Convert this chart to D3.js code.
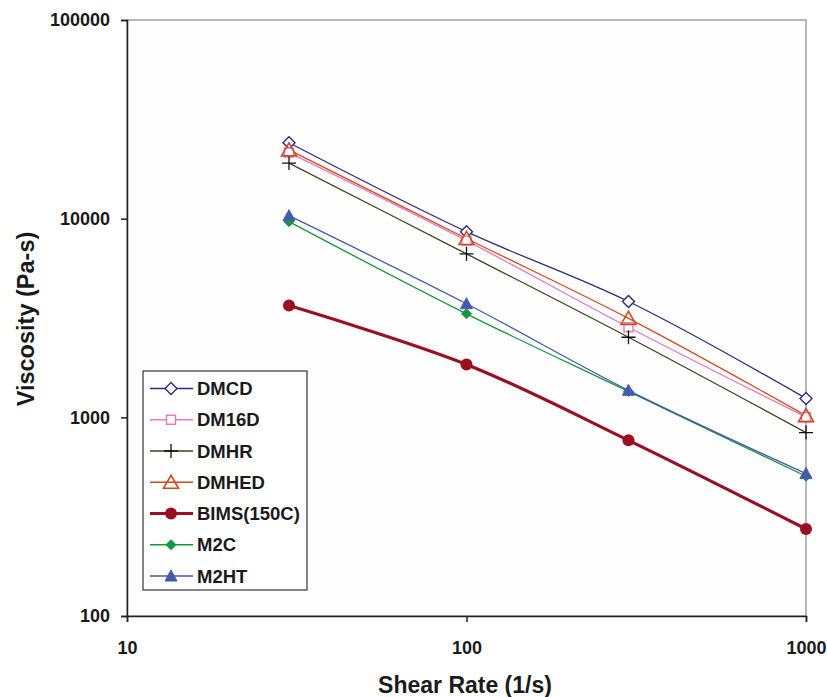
<!DOCTYPE html>
<html><head><meta charset="utf-8">
<script src="https://cdn.jsdelivr.net/npm/d3@7"></script>
<style>body{margin:0;background:#fff}svg{display:block;font-family:"Liberation Sans",Arial,sans-serif}</style>
</head><body><svg id="c" width="827" height="697"></svg>
<script>
const shearRates = [30, 100, 300, 1000];
const seriesNames = ["DMCD","DM16D","DMHR","DMHED","BIMS(150C)","M2C","M2HT"];
const DMCD = [24100, 8600, 3830, 1245];
const DM16D = [21500, 7750, 2840, 1003];
const DMHR = [19050, 6650, 2530, 838];
const DMHED = [22200, 7950, 3150, 1020];
const BIMS = [3655, 1847, 766, 274];
const M2C = [9660, 3320, 1350, 505];
const M2HT = [10350, 3730, 1368, 521];
const xTicks = [10, 100, 1000];
const yTicks = [100, 1000, 10000, 100000];

const styles = {
  "DMCD": {color:"#2f2a80", marker:"diamond", w:1.3},
  "DM16D": {color:"#e57ab8", marker:"square", w:1.3},
  "DMHR": {color:"#3b4621", marker:"plus", w:1.3},
  "DMHED": {color:"#cf4a1c", marker:"triangleOpen", w:1.3},
  "BIMS(150C)": {color:"#9a1022", marker:"circle", w:3.2},
  "M2C": {color:"#17963e", marker:"diamondFill", w:1.3},
  "M2HT": {color:"#4659ad", marker:"triangle", w:1.3}
};
const values = [DMCD, DM16D, DMHR, DMHED, BIMS, M2C, M2HT];

const svg = d3.select("#c");
const L = 127, R = 806, T = 20, B = 616;
const x = d3.scaleLog().domain([10, 1000]).range([L, R]);
const y = d3.scaleLog().domain([100, 100000]).range([B, T]);

// plot frame (gray)
svg.append("rect").attr("x", L).attr("y", T).attr("width", R-L).attr("height", B-T)
  .attr("fill", "#fefefe").attr("stroke", "#a0a0a0").attr("stroke-width", 1.5);

// axes
const xAxis = d3.axisBottom(x).tickValues(xTicks).tickFormat(d3.format("d")).tickSize(6).tickPadding(19);
const yAxis = d3.axisLeft(y).tickValues(yTicks).tickFormat(d3.format("d")).tickSize(6).tickPadding(11);
const gx = svg.append("g").attr("transform", `translate(0,${B})`).call(xAxis);
const gy = svg.append("g").attr("transform", `translate(${L},0)`).call(yAxis);
[gx, gy].forEach(g => {
  g.select(".domain").attr("stroke", "#222").attr("stroke-width", 1.5);
  g.selectAll(".tick line").attr("stroke", "#222").attr("stroke-width", 1.5);
  g.selectAll("text").attr("font-size", 18).attr("font-weight", "bold").attr("fill", "#1a1a1a")
    .attr("font-family", "'Liberation Sans',Arial,sans-serif");
});

// titles
svg.append("text").attr("x", 465).attr("y", 693).attr("text-anchor", "middle")
  .attr("font-size", 23).attr("font-weight", "bold").attr("fill", "#1a1a1a").text("Shear Rate (1/s)");
svg.append("text").attr("transform", "translate(34,319) rotate(-90)").attr("text-anchor", "middle")
  .attr("font-size", 23.5).attr("font-weight", "bold").attr("fill", "#1a1a1a").text("Viscosity (Pa-s)");

function drawMarker(g, type, cx, cy, color) {
  const s = g.append("g").attr("transform", `translate(${cx},${cy})`);
  switch (type) {
    case "diamond":
      s.append("path").attr("d", "M0,-6L6,0L0,6L-6,0Z").attr("fill", "#fff").attr("stroke", color).attr("stroke-width", 1.4); break;
    case "diamondFill":
      s.append("path").attr("d", "M0,-5L5,0L0,5L-5,0Z").attr("fill", color).attr("stroke", color).attr("stroke-width", 1); break;
    case "square":
      s.append("rect").attr("x", -4.5).attr("y", -4.5).attr("width", 9).attr("height", 9).attr("fill", "#fff").attr("stroke", color).attr("stroke-width", 1.4); break;
    case "plus":
      s.append("path").attr("d", "M-7,0H7M0,-7V7").attr("stroke", "#111").attr("stroke-width", 1.3); break;
    case "triangleOpen":
      s.append("path").attr("d", "M0,-7L7.5,6L-7.5,6Z").attr("fill", "none").attr("stroke", color).attr("stroke-width", 1.6); break;
    case "triangle":
      s.append("path").attr("d", "M0,-6L6,5L-6,5Z").attr("fill", color).attr("stroke", color).attr("stroke-width", 1); break;
    case "circle":
      s.append("circle").attr("r", 6).attr("fill", color); break;
  }
}

const line = d3.line().x(d => x(d[0])).y(d => y(d[1])).curve(d3.curveCatmullRom.alpha(0.5));
const order = [0, 1, 2, 3, 5, 6, 4];
const plot = svg.append("g");
order.forEach(i => {
  const name = seriesNames[i], st = styles[name];
  const pts = shearRates.map((r, j) => [r, values[i][j]]);
  plot.append("path").attr("d", line(pts)).attr("fill", "none").attr("stroke", st.color).attr("stroke-width", st.w);
});
order.forEach(i => {
  const name = seriesNames[i], st = styles[name];
  shearRates.forEach((r, j) => drawMarker(plot, st.marker, x(r), y(values[i][j]), st.color));
});

// legend
const lg = svg.append("g");
lg.append("rect").attr("x", 143).attr("y", 371).attr("width", 164).attr("height", 219)
  .attr("fill", "#fff").attr("stroke", "#333").attr("stroke-width", 1.2);
seriesNames.forEach((name, i) => {
  const st = styles[name];
  const cy = 388.5 + i * 31.25;
  lg.append("line").attr("x1", 150).attr("x2", 193).attr("y1", cy).attr("y2", cy).attr("stroke", st.color).attr("stroke-width", st.w);
  drawMarker(lg, st.marker, 171, cy, st.color);
  lg.append("text").attr("x", 197).attr("y", cy + 6.5).attr("font-size", 18.5).attr("font-weight", "bold")
    .attr("fill", "#1a1a1a").text(name);
});
</script></body></html>
